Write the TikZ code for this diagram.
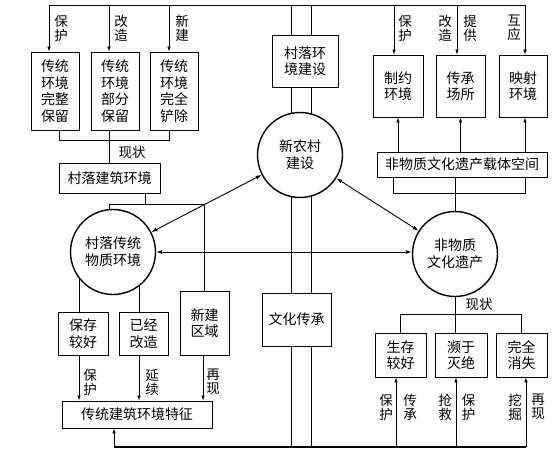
\documentclass[tikz,border=0pt]{standalone}
\usepackage{fontspec}
\newfontfamily\cjk{Noto Sans CJK SC}
\usetikzlibrary{arrows.meta,positioning,backgrounds}
\tikzset{
  box/.style={draw,align=center,inner sep=1pt,font=\cjk\fontsize{14}{16.5}\selectfont},
  circ/.style={draw,circle,fill=white,line width=1.4pt,minimum size=85pt,inner sep=0pt,align=center,font=\cjk\fontsize{14}{17}\selectfont},
  arr/.style={-{Latex[length=5pt,width=3.5pt]}},
  dbl/.style={{Latex[length=6pt,width=4pt]}-{Latex[length=6pt,width=4pt]},line width=0.9pt},
  lbl/.style={align=center,inner sep=0pt,font=\cjk\fontsize{13.5}{14}\selectfont},
}
\begin{document}
\begin{tikzpicture}[x=1pt,y=-1pt,line width=0.7pt]
\useasboundingbox (0,0) rectangle (560,460);
\node[box,minimum width=48,minimum height=78] (bh1) at (55,91) {传统\\环境\\完整\\保留};
\node[box,minimum width=48,minimum height=78] (bh2) at (115,91) {传统\\环境\\部分\\保留};
\node[box,minimum width=48,minimum height=78] (bh3) at (174,91) {传统\\环境\\完全\\铲除};
\node[box,minimum width=101,minimum height=30] (xz) at (109.5,178) {村落建筑环境};
\node[box,minimum width=66,minimum height=52] (cjs) at (305,61) {村落环\\境建设};
\node[box,minimum width=50,minimum height=43] (bc) at (83,333.5) {保存\\较好};
\node[box,minimum width=49,minimum height=43] (yj) at (143.5,333.5) {已经\\改造};
\node[box,minimum width=49,minimum height=64] (xj) at (204.5,323) {新建\\区域};
\node[box,minimum width=150,minimum height=27] (tz) at (137,414.5) {传统建筑环境特征};
\node[box,minimum width=69,minimum height=53] (whcc) at (296.5,319.5) {文化传承};
\node[box,minimum width=170,minimum height=25] (zk) at (462,164.5) {非物质文化遗产载体空间};
\node[box,minimum width=50,minimum height=62] (zy) at (398,86) {制约\\环境};
\node[box,minimum width=49,minimum height=62] (cc) at (460.5,86) {传承\\场所};
\node[box,minimum width=48,minimum height=62] (ys) at (523,86) {映射\\环境};
\node[box,minimum width=51,minimum height=44] (sc) at (400.5,355) {生存\\较好};
\node[box,minimum width=52,minimum height=44] (bw) at (461,355) {濒于\\灭绝};
\node[box,minimum width=51,minimum height=44] (xs) at (521.5,355) {完全\\消失};
\node[circ] (xnc) at (300,155) {新农村\\建设};
\node[circ] (wz) at (113,252) {村落传统\\物质环境};
\node[circ] (fy) at (455,254) {非物质\\文化遗产};
\coordinate (tl) at (49,5);
\coordinate (tr) at (525,5);
\coordinate (bl) at (114,447);
\coordinate (br) at (526,447);
\coordinate (ax) at (301,0);

\begin{scope}[on background layer]
\foreach \dx in {-10,10}{
  \draw ([xshift=\dx]ax |- tl) -- ([xshift=\dx]ax |- cjs.north);
  \draw ([xshift=\dx]ax |- cjs.south) -- ([xshift=\dx]ax |- whcc.north);
  \draw ([xshift=\dx]ax |- whcc.south) -- ([xshift=\dx]ax |- bl);
}
\draw ([xshift=-4]bc.north) -- ([xshift=-4]bc.north |- wz.center);
\draw ([xshift=-4.5]yj.north) -- ([xshift=-4.5]yj.north |- wz.center);
\end{scope}

\draw (tl) -- (tr);
\draw[arr] (tl) -- (tl |- bh1.north);
\draw[arr] ([xshift=-6]bh2.north |- tl) -- ([xshift=-6]bh2.north);
\draw[arr] ([xshift=-5]bh3.north |- tl) -- ([xshift=-5]bh3.north);
\draw[arr] ([xshift=-4]zy.north |- tl) -- ([xshift=-4]zy.north);
\draw[arr] ([xshift=-3.5]cc.north |- tl) -- ([xshift=-3.5]cc.north);
\draw[arr] (tr) -- (tr |- ys.north);
\node[lbl] (l1) at (61,28) {保\\护};
\node[lbl] (l2) at (121,28) {改\\造};
\node[lbl] (l3) at (182,28) {新\\建};
\node[lbl] (l4) at (405,28) {保\\护};
\node[lbl] (l5) at (445,28) {改\\造};
\node[lbl] (l6) at (470,28) {提\\供};
\node[lbl] (l7) at (514,28) {互\\应};

\draw ([xshift=4]bh1.south) -- ++(0,10) -| ([xshift=-5]bh3.south);
\draw ([xshift=-6]bh2.south) -- ([xshift=-6]bh2.south |- xz.north);
\node[lbl] (xz1) at (132,152) {现状};
\draw ([xshift=35.5]xz.south) -- ++(0,12);
\draw ([xshift=-4]wz.north) -- ++(0,-4) -| (xj.north);

\draw[arr] ([xshift=-4]bc.south) -- ([xshift=-4]bc.south |- tz.north);
\draw[arr] ([xshift=-4.5]yj.south) -- ([xshift=-4.5]yj.south |- tz.north);
\draw[arr] ([xshift=-1.5]xj.south) -- ([xshift=-1.5]xj.south |- tz.north);
\node[lbl] (l8) at (90,382) {保\\护};
\node[lbl] (l9) at (152,382) {延\\续};
\node[lbl] (l10) at (213,382) {再\\现};

\draw[arr] (zy.south |- zk.north) -- (zy.south);
\draw[arr] (cc.south |- zk.north) -- (cc.south);
\draw[arr] ([xshift=2]ys.south |- zk.north) -- ([xshift=2]ys.south);
\draw ([xshift=-69]zk.south) -- ++(0,16) -| ([xshift=63]zk.south);
\draw (fy.north |- zk.south) -- (fy.north);

\draw (fy.south) -- (fy.south |- bw.north);
\draw (sc.north) -- ++(0,-18) -| (xs.north);
\node[lbl] (xz2) at (479,304) {现状};

\draw[line width=1.2pt] (bl) -- (br);
\draw[arr] (bl) -- (bl |- tz.south);
\draw[arr] ([xshift=-4.5]sc.south |- bl) -- ([xshift=-4.5]sc.south);
\draw[arr] ([xshift=-5]bw.south |- bl) -- ([xshift=-5]bw.south);
\draw[arr] (br) -- (br |- xs.south);
\node[lbl] (l11) at (386,407) {保\\护};
\node[lbl] (l12) at (410,407) {传\\承};
\node[lbl] (l13) at (445,407) {抢\\救};
\node[lbl] (l14) at (468.5,407) {保\\护};
\node[lbl] (l15) at (515,407) {挖\\掘};
\node[lbl] (l16) at (538,407) {再\\现};

\draw[dbl] (wz) -- (xnc);
\draw[dbl] (xnc) -- (fy);
\draw[dbl] (wz.east) -- (wz.east -| fy.west);
\end{tikzpicture}
\end{document}
